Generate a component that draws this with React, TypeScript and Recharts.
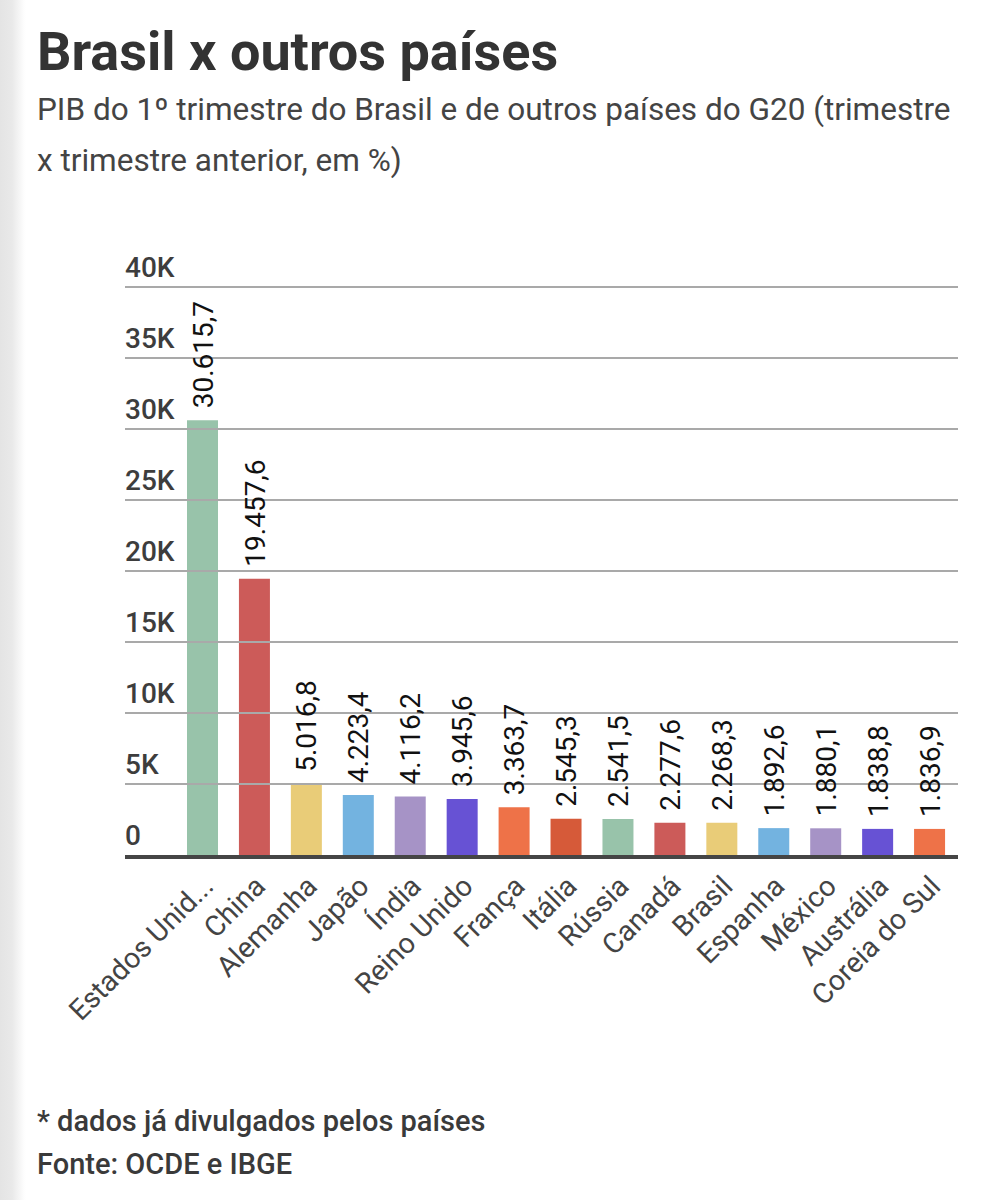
import React from 'react';
import { BarChart, Bar, XAxis, YAxis, Cell, LabelList } from 'recharts';

// GDP by country (values in US$ billions)
const countries = [
  'Estados Unidos', 'China', 'Alemanha', 'Japão', 'Índia', 'Reino Unido', 'França', 'Itália',
  'Rússia', 'Canadá', 'Brasil', 'Espanha', 'México', 'Austrália', 'Coreia do Sul',
];
const pib = [
  30615.7, 19457.6, 5016.8, 4223.4, 4116.2, 3945.6, 3363.7, 2545.3,
  2541.5, 2277.6, 2268.3, 1892.6, 1880.1, 1838.8, 1836.9,
];
const barColors = [
  '#98c3aa', '#cc5b59', '#e9cc78', '#73b3e0', '#a693c6', '#6752d4', '#ee7248', '#d65a39',
  '#98c3aa', '#cc5b59', '#e9cc78', '#73b3e0', '#a693c6', '#6752d4', '#ee7248',
];
const yTicks = [0, 5000, 10000, 15000, 20000, 25000, 30000, 35000, 40000];

const data = countries.map((name, i) => ({ name, value: pib[i], color: barColors[i] }));

const FONT = 'Roboto, "Noto Sans", sans-serif';
const GRID_LEFT = 125;
const GRID_RIGHT = 958;

const fmtTick = (v: number) => (v === 0 ? '0' : `${v / 1000}K`);

const fmtValue = (v: number) => {
  const [intPart, dec] = v.toFixed(1).split('.');
  const grouped = intPart.replace(/\B(?=(\d{3})+(?!\d))/g, '.');
  return `${grouped},${dec}`;
};

const shortLabel = (s: string) => (s.length > 13 ? `${s.slice(0, 12)}...` : s);

const YTick = (props: any) => {
  const { y, payload } = props;
  const isZero = payload.value === 0;
  return (
    <g>
      <line
        x1={GRID_LEFT}
        x2={GRID_RIGHT}
        y1={isZero ? y + 2 : y}
        y2={isZero ? y + 2 : y}
        stroke={isZero ? '#454545' : '#a9a9a9'}
        strokeWidth={isZero ? 4 : 2}
      />
      <text x={GRID_LEFT} y={y - 10} fontSize={28} fontWeight={500} fill="#3d3d3d" fontFamily={FONT}>
        {fmtTick(payload.value)}
      </text>
    </g>
  );
};

const XTick = (props: any) => {
  const { x, y, payload } = props;
  return (
    <text
      transform={`translate(${x + 12},${y + 25}) rotate(-45)`}
      textAnchor="end"
      fontSize={28.5}
      fill="#444"
      fontFamily={FONT}
    >
      {shortLabel(payload.value)}
    </text>
  );
};

const ValueLabel = (props: any) => {
  const { x, y, width, value } = props;
  const cx = x + width / 2;
  return (
    <text
      transform={`translate(${cx},${y - 12}) rotate(-90)`}
      dy="0.36em"
      fontSize={28}
      fill="#111"
      fontFamily={FONT}
    >
      {fmtValue(value)}
    </text>
  );
};

export default function App() {
  return (
    <div style={{ position: 'absolute', top: 0, left: 0, width: 994, height: 1200, background: '#fff', overflow: 'hidden' }}>
      <div
        style={{
          position: 'absolute',
          top: 0,
          left: 0,
          width: 26,
          height: 1200,
          background: 'linear-gradient(to right, #e4e4e4 0px, #e9e9e9 12px, #fdfdfd 24px, #fff 26px)',
        }}
      />
      <svg width={994} height={1200} style={{ position: 'absolute', top: 0, left: 0 }}>
        <text x={37} y={70} fontSize={54} fontWeight={700} fill="#333" fontFamily={FONT}>
          Brasil x outros países
        </text>
        <text x={37} y={120} fontSize={31.5} fill="#444" fontFamily={FONT}>
          PIB do 1º trimestre do Brasil e de outros países do G20 (trimestre
        </text>
        <text x={37} y={171} fontSize={31.5} fill="#444" fontFamily={FONT}>
          x trimestre anterior, em %)
        </text>
        <text x={37} y={1131} fontSize={29} fontWeight={500} fill="#3a3a3a" fontFamily={FONT}>
          * dados já divulgados pelos países
        </text>
        <text x={37} y={1174} fontSize={29} fontWeight={500} fill="#3a3a3a" fontFamily={FONT}>
          Fonte: OCDE e IBGE
        </text>
      </svg>
      <div style={{ position: 'absolute', top: 0, left: 0 }}>
        <BarChart
          width={994}
          height={1070}
          data={data}
          margin={{ top: 287, right: 38, left: 125, bottom: 0 }}
          barCategoryGap={0}
        >
          <YAxis
            width={52}
            domain={[0, 40000]}
            ticks={yTicks}
            axisLine={false}
            tickLine={false}
            tick={<YTick />}
            interval={0}
          />
          <XAxis
            dataKey="name"
            height={215}
            axisLine={false}
            tickLine={false}
            interval={0}
            tick={<XTick />}
          />
          <Bar dataKey="value" barSize={31} isAnimationActive={false}>
            {data.map((d) => (
              <Cell key={d.name} fill={d.color} />
            ))}
            <LabelList dataKey="value" content={<ValueLabel />} />
          </Bar>
        </BarChart>
      </div>
    </div>
  );
}
